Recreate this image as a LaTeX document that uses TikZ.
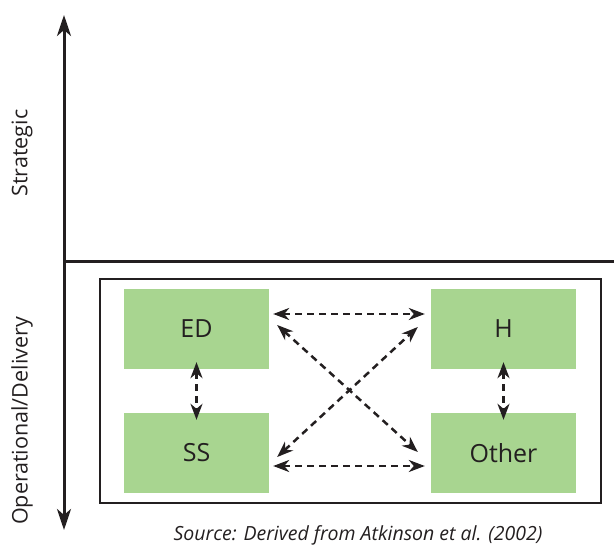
\documentclass[tikz,border=0pt]{standalone}
\usepackage{fontspec}
\setmainfont{Open Sans}
\usepackage{tikz}
\usetikzlibrary{arrows.meta}
\usetikzlibrary{positioning}
\definecolor{leaf}{RGB}{168, 213, 144}
\definecolor{ink}{RGB}{35, 31, 32}
\tikzset{
    axis/.style={{Stealth[length=21pt,width=14pt,inset=6pt]}-{Stealth[length=21pt,width=14pt,inset=6pt]}, line width=3pt, draw=ink},
    link/.style={{Stealth[length=16pt,width=12pt,inset=5pt]}-{Stealth[length=16pt,width=12pt,inset=5pt]}, line width=2.5pt, draw=ink, dash pattern=on 7pt off 5pt},
    box/.style = {
      minimum width=145pt,
      minimum height=80pt,
      rectangle,
      fill=leaf,
      text=ink,
      font=\fontsize{25}{28}\selectfont
    },
    label/.style={text=ink, font=\fontsize{21.5}{24}\selectfont, rotate=90},
}

\begin{document}
\begin{tikzpicture}[x=1pt,y=-1pt]
        \useasboundingbox (0,0) rectangle (614,548);

        \coordinate (axtop) at (64,15);
        \coordinate (axbot) at (64,530);
        \coordinate (split) at (64,262);
        \coordinate (splitend) at (614,262);

        \draw[axis] (axbot) -- (axtop);
        \draw[line width=3pt, draw=ink] (split) -- (splitend);

        \node[label] (strat) at (22,153) {Strategic};
        \node[label] (oper) at (22,421) {Operational/Delivery};

        \node[draw=ink, line width=1.5pt, minimum width=501pt, minimum height=224pt] (frame) at (350.5,391) {};

        \node[box] (ED) at (196.5,329) {ED};
        \node[box] (H) at (503.5,329) {H};
        \node[box] (SS) at (196.5,453) {SS};
        \node[box] (Other) at (503.5,453) {Other};

        \draw[link] ([xshift=4pt,yshift=15pt]ED.east) -- ([xshift=-6pt,yshift=15pt]H.west);
        \draw[link] ([xshift=4pt,yshift=-13pt]SS.east) -- ([xshift=-6pt,yshift=-13pt]Other.west);
        \draw[link] ([xshift=8pt,yshift=4pt]ED.east) -- ([xshift=-13pt,yshift=1pt]Other.west);
        \draw[link] ([xshift=8pt,yshift=-4pt]SS.east) -- ([xshift=-13pt,yshift=2pt]H.west);
        \draw[link] ([yshift=7pt]ED.south) -- ([yshift=-7pt]SS.north);
        \draw[link] ([yshift=7pt]H.south) -- ([yshift=-7pt]Other.north);

        \node[text=ink, font=\fontsize{19.5}{22}\selectfont\itshape] (source) at (358,535) {Source: Derived from Atkinson et al. (2002)};
\end{tikzpicture}
\end{document}
